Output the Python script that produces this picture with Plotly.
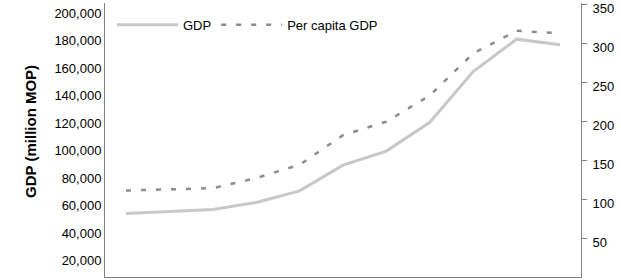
import plotly.graph_objects as go

years = [2003, 2004, 2005, 2006, 2007, 2008, 2009, 2010, 2011, 2012, 2013]
gdp = [54400, 55800, 57300, 62400, 70800, 89500, 99700, 120600, 157500, 181000, 176900]
per_capita = [111, 112.5, 114, 127, 144, 182, 199.5, 233, 287, 316, 313]

left_ticks = [20000, 40000, 60000, 80000, 100000, 120000, 140000, 160000, 180000, 200000]
right_ticks = [50, 100, 150, 200, 250, 300, 350]

axis_color = "#808080"
font_family = "Liberation Sans, Arial, sans-serif"

fig = go.Figure()
fig.add_trace(go.Scatter(
    x=years, y=gdp, name="GDP", mode="lines",
    line=dict(color="#c8c8c8", width=3), yaxis="y"))
fig.add_trace(go.Scatter(
    x=years, y=per_capita, name="Per capita GDP", mode="lines",
    line=dict(color="#8c8c8c", width=2.5, dash="5px,10px"), yaxis="y2"))

fig.update_layout(
    width=621, height=280,
    margin=dict(l=105, r=40, t=3, b=3, autoexpand=False),
    paper_bgcolor="white", plot_bgcolor="white",
    font=dict(family=font_family, size=13, color="#000000"),
    showlegend=True,
    legend=dict(orientation="h", x=0.0147, y=0.975, xanchor="left", yanchor="top",
                bgcolor="rgba(0,0,0,0)", font=dict(size=13), itemwidth=61,
                traceorder="normal"),
    xaxis=dict(range=[years[0] - 0.484, years[-1] + 0.484], showticklabels=False,
               ticks="", showgrid=False, zeroline=False, showline=True,
               linecolor=axis_color, linewidth=1, automargin=False),
    yaxis=dict(range=[8200, 207300], tickvals=left_ticks, tickformat=",",
               ticks="", showgrid=False, zeroline=False, showline=True,
               linecolor=axis_color, linewidth=1, automargin=False,
               tickfont=dict(size=13)),
    yaxis2=dict(range=[0, 351.7], tickvals=right_ticks, overlaying="y", side="right",
                ticks="outside", ticklen=5, tickcolor=axis_color,
                ticklabelshift=4, ticklabeloverflow="allow", ticklabelstandoff=3,
                showgrid=False, zeroline=False, showline=True, automargin=False,
                linecolor=axis_color, linewidth=1, tickfont=dict(size=13)),
    annotations=[dict(text="<b>GDP (million MOP)</b>", xref="paper", yref="paper",
                      x=-0.1555, y=0.533, xanchor="center", yanchor="middle",
                      textangle=-90, showarrow=False,
                      font=dict(size=15, family=font_family, color="#000000"))],
)

fig.write_html("out.html")
